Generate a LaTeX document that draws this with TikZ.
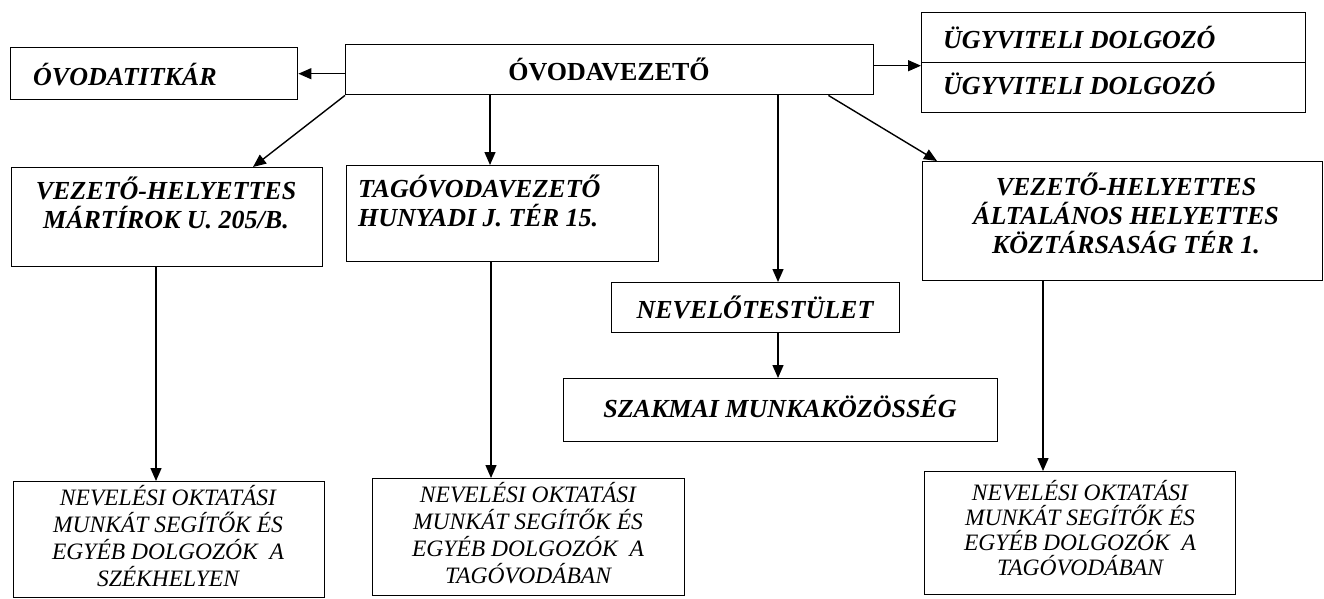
\documentclass[tikz,border=0pt]{standalone}
\usepackage{fontspec}
\setmainfont{Liberation Serif}
\usetikzlibrary{arrows.meta,calc}
\begin{document}
\begin{tikzpicture}[x=1pt,y=-1pt,
  box/.style={draw, line width=1.4pt, inner sep=0pt, anchor=north west},
  arr/.style={draw, line width=1.4pt, -{Triangle[length=13pt,width=11pt]}},
  big/.style={font=\fontsize{26}{29}\selectfont\bfseries\itshape, inner sep=0pt},
  bigup/.style={font=\fontsize{26}{29}\selectfont\bfseries, inner sep=0pt},
  small/.style={font=\fontsize{23.5}{27}\selectfont\itshape, inner sep=0pt, align=center},
  smallb/.style={font=\fontsize{23.5}{25}\selectfont\itshape, inner sep=0pt, align=center},
]
\useasboundingbox[fill=white] (0,0) rectangle (1324,598);

% boxes
\node[box, minimum width=287pt, minimum height=52pt]  (tit)  at (10,47) {};
\node[box, minimum width=528pt, minimum height=50pt]  (vez)  at (345,44) {};
\node[box, minimum width=384pt, minimum height=100pt] (ugy)  at (921,12) {};
\node[box, minimum width=311pt, minimum height=99pt]  (vh1)  at (11,167) {};
\node[box, minimum width=312pt, minimum height=96pt]  (tago) at (346,165) {};
\node[box, minimum width=288pt, minimum height=50pt]  (nev)  at (611,282) {};
\node[box, minimum width=434pt, minimum height=63pt]  (szak) at (563,378) {};
\node[box, minimum width=400pt, minimum height=119pt] (vh2)  at (922,161) {};
\node[box, minimum width=311pt, minimum height=116pt] (b1)   at (13,481) {};
\node[box, minimum width=312pt, minimum height=117pt] (b2)   at (372,478) {};
\node[box, minimum width=311pt, minimum height=123pt] (b3)   at (924,471) {};
\draw[line width=1.4pt] (ugy.west) -- (ugy.east);

% texts
\node[big, anchor=base west] (ttit) at (33,85) {ÓVODATITKÁR};
\node[bigup, anchor=base] (tvez) at (609,80) {ÓVODAVEZETŐ};
\node[big, anchor=base west] (tugy1) at (943,48) {ÜGYVITELI DOLGOZÓ};
\node[big, anchor=base west] (tugy2) at (943,94) {ÜGYVITELI DOLGOZÓ};
\node[big, align=center] (tvh1) at (166,203) {VEZETŐ-HELYETTES\\MÁRTÍROK U. 205/B.};
\node[big, align=left, anchor=west] (ttago) at (358,201) {TAGÓVODAVEZETŐ\\HUNYADI J. TÉR 15.};
\node[big, anchor=base] (tnev) at (755,318) {NEVELŐTESTÜLET};
\node[big, anchor=base] (tszak) at (780,417) {SZAKMAI MUNKAKÖZÖSSÉG};
\node[big, align=center] (tvh2) at (1126,213) {VEZETŐ-HELYETTES\\ÁLTALÁNOS HELYETTES\\KÖZTÁRSASÁG TÉR 1.};
\node[small] (tb1) at (168,536) {NEVELÉSI OKTATÁSI\\MUNKÁT SEGÍTŐK ÉS\\EGYÉB DOLGOZÓK~~A\\SZÉKHELYEN};
\node[small] (tb2) at (528,533) {NEVELÉSI OKTATÁSI\\MUNKÁT SEGÍTŐK ÉS\\EGYÉB DOLGOZÓK~~A\\TAGÓVODÁBAN};
\node[smallb] (tb3) at (1080,528) {NEVELÉSI OKTATÁSI\\MUNKÁT SEGÍTŐK ÉS\\EGYÉB DOLGOZÓK~~A\\TAGÓVODÁBAN};

% connector end points
\coordinate (ugyin) at ($(ugy.west)+(0,3)$);
\coordinate (vh1in) at ($(vh1.north west)+(242,0)$);
\coordinate (tagoin) at ($(tago.north west)+(144,0)$);
\coordinate (nevin) at ($(nev.north west)+(167,0)$);
\coordinate (vezout) at ($(vez.south east)+(-46,0)$);
\coordinate (vh2in) at ($(vh2.north west)+(15,0)$);
\coordinate (b1in) at ($(b1.north west)+(143,0)$);
\coordinate (b2in) at ($(b2.north west)+(119,0)$);
\coordinate (b3in) at ($(b3.north west)+(119,0)$);

% connectors
\draw[arr] (vez.west |- tit.west) -- (tit.east);
\draw[arr] (vez.east |- ugyin) -- (ugyin);
\draw[arr] (vez.south west) -- (vh1in);
\draw[arr] (vez.south -| tagoin) -- (tagoin);
\draw[arr] (vez.south -| nevin) -- (nevin);
\draw[arr] (vezout) -- (vh2in);
\draw[arr] (nevin |- nev.south) -- (nevin |- szak.north);
\draw[arr] (vh1.south -| b1in) -- (b1in);
\draw[arr] (tago.south -| b2in) -- (b2in);
\draw[arr] (vh2.south -| b3in) -- (b3in);
\end{tikzpicture}
\end{document}
